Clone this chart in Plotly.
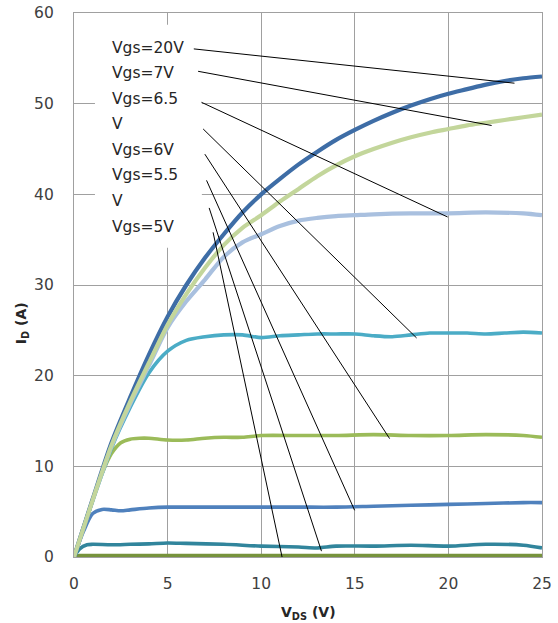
import numpy as np
import plotly.graph_objects as go

# ---- output characteristics, I_D versus V_DS for each gate voltage ----
vds_20 = [0, 1, 2, 3, 4, 5, 6, 7, 8, 9, 10, 11, 12, 13, 14, 15, 16, 17, 18, 19, 20, 21, 22, 23, 24, 25]
id_20 = [0, 6.4, 12.6, 17.6, 22.3, 26.5, 30.0, 33.0, 35.6, 38.0, 40.0, 41.7, 43.3, 44.7, 46.0, 47.1,
         48.1, 49.0, 49.8, 50.5, 51.1, 51.6, 52.1, 52.5, 52.8, 53.0]

vds_7 = [0, 1, 2, 3, 4, 5, 6, 7, 8, 9, 10, 11, 12, 13, 14, 15, 16, 17, 18, 19, 20, 21, 22, 23, 24, 25]
id_7 = [0, 6.3, 12.3, 17.1, 21.4, 25.6, 29.0, 31.9, 34.4, 36.3, 37.7, 39.2, 40.6, 42.0, 43.2, 44.2,
        45.0, 45.7, 46.3, 46.8, 47.2, 47.6, 47.9, 48.2, 48.5, 48.8]

vds_65 = [0, 1, 2, 3, 4, 5, 6, 7, 8, 9, 10, 11, 12, 13, 14, 15, 16, 18, 20, 22, 24, 25]
id_65 = [0, 6.3, 12.2, 16.9, 21.1, 25.3, 28.2, 30.6, 33.1, 34.7, 35.6, 36.5, 37.1, 37.4, 37.6, 37.7,
         37.8, 37.9, 37.9, 38.0, 37.9, 37.7]

vds_6 = [0, 1, 2, 3, 4, 5, 6, 7, 8, 9, 10, 11, 12, 13, 14, 15, 16, 17, 18, 19, 20, 21, 22, 23, 24, 25]
id_6 = [0, 6.2, 12.0, 16.5, 20.3, 22.7, 23.9, 24.3, 24.5, 24.5, 24.2, 24.4, 24.5, 24.6, 24.6, 24.6,
        24.4, 24.3, 24.5, 24.7, 24.7, 24.7, 24.6, 24.7, 24.8, 24.7]

vds_55 = [0, 0.5, 1, 1.5, 2, 2.5, 3, 3.5, 4, 5, 6, 7, 8, 9, 10, 12, 14, 16, 18, 20, 22, 24, 25]
id_55 = [0, 3.2, 6.3, 9.2, 11.4, 12.6, 13.0, 13.1, 13.1, 12.9, 12.9, 13.1, 13.2, 13.2, 13.4, 13.4,
         13.4, 13.5, 13.4, 13.4, 13.5, 13.4, 13.2]

vds_5 = [0, 0.5, 1, 1.5, 2, 2.5, 3, 4, 5, 6, 8, 10, 12, 14, 16, 18, 20, 22, 24, 25]
id_5 = [0, 2.8, 4.8, 5.25, 5.2, 5.1, 5.2, 5.4, 5.5, 5.5, 5.5, 5.5, 5.5, 5.5, 5.6, 5.7, 5.8, 5.9, 6.0, 6.0]

vds_45 = [0, 0.3, 0.7, 1, 2, 3, 4, 5, 6, 8, 10, 12, 13, 14, 16, 18, 20, 22, 24, 25]
id_45 = [0, 0.9, 1.35, 1.4, 1.35, 1.4, 1.45, 1.55, 1.5, 1.4, 1.2, 1.1, 1.0, 1.2, 1.2, 1.3, 1.2, 1.4, 1.3, 1.0]

vds_4 = [0, 0.3, 1, 5, 10, 15, 20, 25]
id_4 = [0, 0.15, 0.15, 0.15, 0.15, 0.15, 0.15, 0.15]

# label block, one text row per leader line
label_rows = ["Vgs=20V", "Vgs=7V", "Vgs=6.5", "V", "Vgs=6V", "Vgs=5.5", "V", "Vgs=5V"]
leader_start_x = [6.40, 6.63, 6.81, 6.90, 6.99, 7.08, 7.22, 7.43]
leader_start_y = [56.04, 53.57, 50.15, 47.21, 44.43, 41.54, 38.50, 35.81]
leader_end_x = [23.53, 22.31, 19.96, 18.30, 16.86, 14.99, 13.22, 11.14]

x_ticks = [0, 5, 10, 15, 20, 25]
y_ticks = [0, 10, 20, 30, 40, 50, 60]

curves = {
    "20V": (vds_20, id_20, "#3E6DA6", 4.2),
    "7V": (vds_7, id_7, "#C3D69B", 4.2),
    "6.5V": (vds_65, id_65, "#A9C0DF", 4.2),
    "6V": (vds_6, id_6, "#4BACC6", 3.6),
    "5.5V": (vds_55, id_55, "#9BBB59", 3.6),
    "5V": (vds_5, id_5, "#4F81BD", 3.6),
    "4.5V": (vds_45, id_45, "#31859C", 3.6),
    "4V": (vds_4, id_4, "#77933C", 3.6),
}
leader_targets = ["20V", "7V", "6.5V", "6V", "5.5V", "5V", "4.5V", "4V"]
draw_order = ["4V", "4.5V", "5V", "5.5V", "6V", "6.5V", "20V", "7V"]

fig = go.Figure()
for name in draw_order:
    xs, ys, color, width = curves[name]
    fig.add_trace(go.Scatter(
        x=xs, y=ys, mode="lines", name=name,
        line=dict(color=color, width=width, shape="spline", smoothing=0.8),
        hoverinfo="skip", showlegend=False,
    ))

# white panel behind the label block (hides the grid there)
fig.add_shape(type="rect", xref="x", yref="y", x0=1.12, x1=6.83, y0=34.1, y1=58.7,
              fillcolor="white", line=dict(width=0), layer="between")

# text rows
row_top, row_step = 56.18, 2.82
for i, txt in enumerate(label_rows):
    fig.add_annotation(x=1.92, y=row_top - i * row_step, xref="x", yref="y", text=txt,
                       showarrow=False, xanchor="left", yanchor="middle",
                       font=dict(family="DejaVu Sans", size=15.5, color="#262626"))

# leader lines from each row to its curve
for sx, sy, ex, key in zip(leader_start_x, leader_start_y, leader_end_x, leader_targets):
    cx, cy = curves[key][0], curves[key][1]
    ey = float(np.interp(ex, cx, cy)) - 0.4
    fig.add_shape(type="line", xref="x", yref="y", x0=sx, y0=sy, x1=ex, y1=ey,
                  line=dict(color="black", width=1), layer="above")

# axis titles
fig.add_annotation(x=0.5, y=-0.1024, xref="paper", yref="paper",
                   text="<b>V<sub>DS</sub> (V)</b>", showarrow=False,
                   xanchor="center", yanchor="middle",
                   font=dict(family="DejaVu Sans", size=14, color="#262626"))
fig.add_annotation(x=-0.111, y=0.43, xref="paper", yref="paper",
                   text="<b>I<sub>D</sub> (A)</b>", showarrow=False, textangle=-90,
                   xanchor="center", yanchor="middle",
                   font=dict(family="DejaVu Sans", size=14, color="#262626"))

axis_common = dict(
    showgrid=True, gridcolor="#A0A0A0", gridwidth=1.3,
    showline=True, linecolor="#A0A0A0", linewidth=1.3, mirror=True,
    ticks="", zeroline=False, automargin=False,
    tickfont=dict(family="DejaVu Sans", size=15.5, color="#404040"),
)
fig.update_xaxes(range=[0, 25], tickvals=x_ticks, ticklabelstandoff=12, **axis_common)
fig.update_yaxes(range=[0, 60], tickvals=y_ticks, ticklabelstandoff=16, **axis_common)

fig.update_layout(
    width=558, height=623,
    margin=dict(l=74, r=16, t=13, b=66, autoexpand=False),
    paper_bgcolor="white", plot_bgcolor="white",
    showlegend=False,
)

fig.write_html("out.html")
